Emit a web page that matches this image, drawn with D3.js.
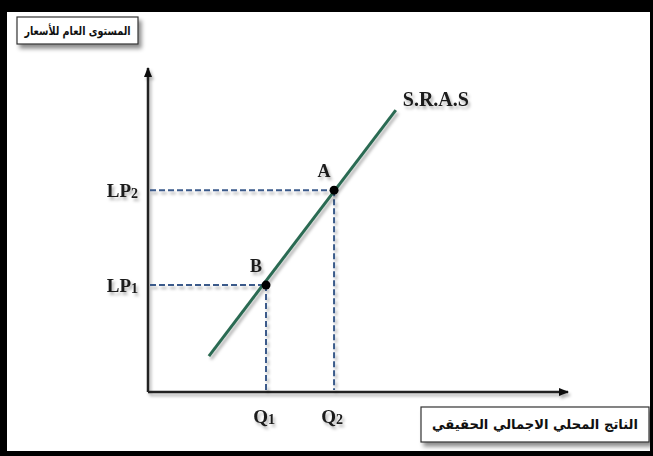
<!DOCTYPE html>
<html lang="ar">
<head>
    <meta charset="UTF-8">
    <title>SRAS</title>
    <script src="https://cdn.jsdelivr.net/npm/d3@7"></script>
    <style>
        body { margin: 0; background: #fff; }
        svg { display: block; }
    </style>
</head>
<body>
<script>

    // chart values (conceptual units 0..100 on both axes)
    var pointNames = ["B", "A"];
    var quantityTicks = ["Q", "Q"];
    var quantitySubs = ["1", "2"];
    var quantityValues = [28.1, 44.3];
    var priceTicks = ["LP", "LP"];
    var priceSubs = ["1", "2"];
    var priceValues = [33.0, 62.3];
    var srasX = [14.5, 59.0];
    var srasY = [11.1, 87.0];
    var curveLabel = "S.R.A.S";
    var yTitle = "المستوى العام للأسعار";
    var xTitle = "الناتج المحلي الاجمالي الحقيقي";

    var W = 653, H = 456;

    var svg = d3.select("body")
            .append("svg")
            .attr("width", W)
            .attr("height", H);

    var defs = svg.append("defs");

    var sh = defs.append("filter").attr("id", "shadow")
            .attr("x", "-30%").attr("y", "-30%").attr("width", "160%").attr("height", "160%");
    sh.append("feDropShadow")
            .attr("dx", 2).attr("dy", 3)
            .attr("stdDeviation", 1.8)
            .attr("flood-color", "#000")
            .attr("flood-opacity", 0.3);

    var shBox = defs.append("filter").attr("id", "boxshadow")
            .attr("x", "-20%").attr("y", "-30%").attr("width", "140%").attr("height", "170%");
    shBox.append("feDropShadow")
            .attr("dx", 3).attr("dy", 4)
            .attr("stdDeviation", 2)
            .attr("flood-color", "#000")
            .attr("flood-opacity", 0.45);

    defs.append("marker")
            .attr("id", "arrow")
            .attr("viewBox", "0 0 10 10")
            .attr("refX", 9).attr("refY", 5)
            .attr("markerWidth", 4).attr("markerHeight", 4)
            .attr("orient", "auto")
            .append("path")
            .attr("d", "M0,1 L10,5 L0,9 Z")
            .attr("fill", "#111");

    // black frame
    svg.append("rect").attr("width", W).attr("height", H).attr("fill", "#000");
    svg.append("rect")
            .attr("x", 7).attr("y", 12)
            .attr("width", 643).attr("height", 439)
            .attr("fill", "#fff");

    var x = d3.scaleLinear().domain([0, 100]).range([148, 568]);
    var y = d3.scaleLinear().domain([0, 100]).range([392, 68]);

    // axes
    var axes = svg.append("g").attr("filter", "url(#shadow)");
    axes.append("line")
            .attr("x1", x(0)).attr("y1", y(0))
            .attr("x2", x(0)).attr("y2", y(100))
            .attr("stroke", "#222").attr("stroke-width", 2.5)
            .attr("marker-end", "url(#arrow)");
    axes.append("line")
            .attr("x1", x(0)).attr("y1", y(0))
            .attr("x2", x(100)).attr("y2", y(0))
            .attr("stroke", "#222").attr("stroke-width", 2.5)
            .attr("marker-end", "url(#arrow)");

    var pts = pointNames.map(function(n, i) {
        return { name: n, q: quantityValues[i], p: priceValues[i] };
    });

    // dashed guides
    var guides = svg.append("g")
            .attr("stroke", "#3a5a8a")
            .attr("stroke-width", 2)
            .attr("stroke-dasharray", "6,3")
            .attr("filter", "url(#shadow)");
    guides.selectAll(".h").data(pts).enter().append("line")
            .attr("x1", x(0) + 2).attr("x2", function(d) { return x(d.q); })
            .attr("y1", function(d) { return y(d.p); })
            .attr("y2", function(d) { return y(d.p); });
    guides.selectAll(".v").data(pts).enter().append("line")
            .attr("x1", function(d) { return x(d.q); })
            .attr("x2", function(d) { return x(d.q); })
            .attr("y1", function(d) { return y(d.p); })
            .attr("y2", y(0) - 2);

    // SRAS curve
    svg.append("line")
            .attr("x1", x(srasX[0])).attr("y1", y(srasY[0]))
            .attr("x2", x(srasX[1])).attr("y2", y(srasY[1]))
            .attr("stroke", "#2b6b52").attr("stroke-width", 3)
            .attr("filter", "url(#shadow)");

    // points
    svg.selectAll(".pt").data(pts).enter().append("circle")
            .attr("cx", function(d) { return x(d.q); })
            .attr("cy", function(d) { return y(d.p); })
            .attr("r", 4.5)
            .attr("fill", "#000");

    var serif = "'Liberation Serif', 'Times New Roman', serif";

    var labels = svg.append("g")
            .attr("font-family", serif)
            .attr("font-weight", "bold")
            .attr("fill", "#1a1a1a")
            .attr("filter", "url(#shadow)");

    labels.selectAll(".pl").data(pts).enter().append("text")
            .attr("x", function(d) { return x(d.q) - 10; })
            .attr("y", function(d) { return y(d.p) - 13; })
            .attr("text-anchor", "middle")
            .attr("font-size", 18)
            .text(function(d) { return d.name; });

    labels.append("text")
            .attr("x", x(srasX[1]) + 7)
            .attr("y", y(srasY[1]) - 4)
            .attr("font-size", 20)
            .text(curveLabel);

    // price tick labels
    priceTicks.forEach(function(t, i) {
        var tx = labels.append("text")
                .attr("x", x(0) - 10)
                .attr("y", y(priceValues[i]) + 7)
                .attr("text-anchor", "end")
                .attr("font-size", 19);
        tx.append("tspan").text(t);
        tx.append("tspan").attr("font-size", 14).attr("dy", 1).text(priceSubs[i]);
    });

    // quantity tick labels
    quantityTicks.forEach(function(t, i) {
        var tx = labels.append("text")
                .attr("x", x(quantityValues[i]) - 2)
                .attr("y", y(0) + 31)
                .attr("text-anchor", "middle")
                .attr("font-size", 19);
        tx.append("tspan").text(t);
        tx.append("tspan").attr("font-size", 14).attr("dy", 1).text(quantitySubs[i]);
    });

    // axis title boxes
    function titleBox(bx, by, bw, bh, txt, fs, tl) {
        var g = svg.append("g");
        g.append("rect")
                .attr("x", bx).attr("y", by)
                .attr("width", bw).attr("height", bh)
                .attr("fill", "#fff")
                .attr("stroke", "#333").attr("stroke-width", 1.2)
                .attr("filter", "url(#boxshadow)");
        var t = g.append("text")
                .attr("x", bx + bw / 2)
                .attr("y", by + bh / 2 + fs * 0.35)
                .attr("text-anchor", "middle")
                .attr("direction", "rtl")
                .attr("font-family", "'DejaVu Sans', 'Noto Sans', sans-serif")
                .attr("font-weight", "bold")
                .attr("font-size", fs)
                .attr("fill", "#111")
                .text(txt);
        if (tl) {
            t.attr("textLength", tl).attr("lengthAdjust", "spacingAndGlyphs");
        }
    }
    titleBox(17, 17, 121, 27, yTitle, 12, 106);
    titleBox(421, 407, 228, 35, xTitle, 13.5, 206);

</script>
</body>
</html>
